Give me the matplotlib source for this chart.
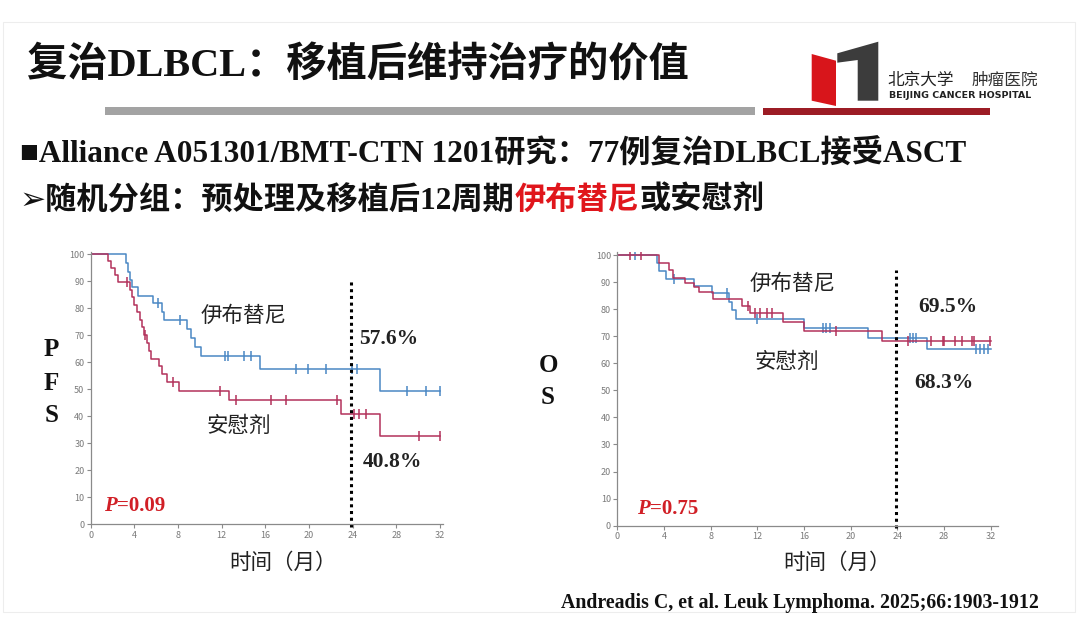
import matplotlib
matplotlib.use("Agg")
import matplotlib.pyplot as plt
from matplotlib.patches import Polygon, Rectangle
import numpy as np

plt.rcParams['font.family'] = ['Noto Sans CJK SC', 'DejaVu Sans']

W, H = 1080, 641
MIX = ['Liberation Serif', 'Noto Sans CJK SC', 'DejaVu Sans']
BLUE = '#4a87c4'
RED = '#b3315b'
PRED = '#d11f26'

# ---- data (months, survival %) ----
pfs_ibr_t = [0, 3.2, 3.4, 3.6, 3.8, 4.3, 5.7, 6.5, 6.7, 8.8, 9.2, 9.6, 10.1, 15.5, 26.5]
pfs_ibr_s = [100, 96.8, 93.6, 90.4, 87.8, 84.7, 81.8, 78.7, 75.5, 72.3, 69.0, 65.7, 62.3, 57.6, 49.4]
pfs_ibr_cens = [6.2, 8.2, 12.3, 12.6, 14.0, 14.7, 18.8, 19.9, 21.6, 23.9, 24.4, 29.0, 30.7, 32.0]

pfs_pbo_t = [0, 1.6, 1.9, 2.2, 2.5, 3.6, 3.8, 4.0, 4.2, 4.5, 4.7, 4.9, 5.2, 5.3, 5.5,
             6.3, 6.5, 7.0, 8.1, 12.7, 22.9, 26.5]
pfs_pbo_s = [100, 97.4, 94.8, 92.2, 89.6, 86.9, 84.1, 81.3, 78.5, 75.7, 72.9, 70.1, 67.2, 64.3, 61.4,
             58.5, 55.6, 52.7, 49.2, 45.9, 40.8, 32.6]
pfs_pbo_cens = [3.3, 5.0, 7.5, 11.8, 13.3, 16.5, 17.9, 22.6, 24.1, 24.6, 25.2, 30.1, 32.0]

os_ibr_t = [0, 3.4, 3.6, 4.2, 6.6, 8.1, 9.6, 9.8, 10.2, 16.0, 21.5, 26.5]
os_ibr_s = [100, 97.2, 94.2, 91.2, 88.7, 85.8, 82.8, 79.7, 76.4, 72.9, 69.5, 65.3]
os_ibr_cens = [1.5, 4.9, 9.4, 12.0, 17.6, 17.9, 18.2, 25.1, 25.3, 25.6, 30.7, 31.1, 31.4, 31.8]

os_pbo_t = [0, 3.6, 4.4, 4.8, 5.8, 6.6, 7.0, 8.2, 10.7, 11.4, 14.2, 16.0, 22.7]
os_pbo_s = [100, 97.2, 94.4, 91.6, 89.5, 88.0, 86.4, 83.6, 81.2, 78.7, 75.4, 72.0, 68.3]
os_pbo_cens = [1.1, 2.0, 11.2, 11.8, 12.2, 12.8, 13.3, 18.7, 24.9, 26.9, 27.9, 28.0,
               28.9, 29.5, 30.4, 30.6, 31.9]

x_ticks = [0, 4, 8, 12, 16, 20, 24, 28, 32]
y_ticks = [0, 10, 20, 30, 40, 50, 60, 70, 80, 90, 100]


def px(x, y):
    return x / W, 1 - y / H


def step_at(t, s, c):
    idx = np.searchsorted(t, c, side='right') - 1
    return np.asarray(s)[idx]


def km(ax, t, s, cens, color, tmax=32.0):
    tt = list(t) + [tmax]
    ss = list(s) + [s[-1]]
    ax.step(tt, ss, where='post', color=color, lw=1.1)
    ax.plot(cens, step_at(t, s, cens), ls='none', marker='|', ms=7, mew=1.1, color=color)


def style(ax, xmax):
    ax.set_xlim(0, xmax)
    ax.set_ylim(0, 101)
    ax.set_xticks(x_ticks)
    ax.set_yticks(y_ticks)
    for sp in ['top', 'right']:
        ax.spines[sp].set_visible(False)
    for sp in ['left', 'bottom']:
        ax.spines[sp].set_color('#8a8a8a')
        ax.spines[sp].set_linewidth(0.9)
    ax.tick_params(length=3, width=0.8, color='#8a8a8a', labelsize=6.5,
                   labelcolor='#7a7a7a', pad=1.5)


fig = plt.figure(figsize=(W / 100, H / 100), dpi=100)
fig.patch.set_facecolor('white')
renderer = fig.canvas.get_renderer()


def seq_text(x, y, parts, **kw):
    # parts: (text, colour, extra kwargs) placed one after another, in pixels
    for s, color, extra in parts:
        t = fig.text(*px(x, y), s, color=color, va='center', ha='left', **kw, **extra)
        x += t.get_window_extent(renderer).width


# faint slide frame
fig.patches.append(Rectangle(px(3, 612), 1072 / W, 590 / H, transform=fig.transFigure,
                             fill=False, ec='#ededed', lw=0.8))

# header
fig.text(*px(27, 66), '复治DLBCL：移植后维持治疗的价值', family=MIX, weight='bold',
         fontsize=29, va='center', ha='left', color='#111111')
fig.patches.append(Rectangle(px(105, 115), 650 / W, 8 / H, transform=fig.transFigure,
                             color='#a3a3a3', lw=0))
fig.patches.append(Rectangle(px(763, 115), 227 / W, 7 / H, transform=fig.transFigure,
                             color='#9c1c25', lw=0))

# logo
red_shape = [(811.7, 54), (836, 60.7), (836, 106), (811.7, 100.7)]
gray_shape = [(837.3, 53.3), (878.3, 41.7), (878.3, 100.7), (857.7, 100.7), (857.7, 60), (837.3, 62.7)]
fig.patches.append(Polygon([px(*p) for p in red_shape], closed=True, transform=fig.transFigure,
                           color='#d8151b', lw=0))
fig.patches.append(Polygon([px(*p) for p in gray_shape], closed=True, transform=fig.transFigure,
                           color='#3c3c3c', lw=0))
fig.text(*px(887, 80), '北京大学', fontsize=12, va='center', ha='left', color='#222222',
         family=['Noto Sans CJK SC'], weight='light')
fig.text(*px(972, 80), '肿瘤医院', fontsize=12, va='center', ha='left', color='#333333')
fig.text(*px(889, 95), 'BEIJING CANCER HOSPITAL', fontsize=6.8, weight='bold', va='center',
         ha='left', color='#222222', family=['DejaVu Sans'])

seq_text(20, 153, [('■Alliance A051301/BMT-CTN 1201研究：77例复治DLBCL接受ASCT', '#111111', {})],
         family=MIX, weight='bold', fontsize=22.5)
seq_text(20, 201, [('➢随机分组：预处理及移植后12周期', '#111111', {}), ('伊布替尼', '#e0161c', {}),
                   ('或安慰剂', '#111111', {})], family=MIX, weight='bold', fontsize=22.5)

# ---- PFS panel ----
ax1 = fig.add_axes([90.7 / W, 116.7 / H, 352.6 / W, 272.7 / H])
style(ax1, 32.3)
km(ax1, pfs_ibr_t, pfs_ibr_s, pfs_ibr_cens, BLUE)
km(ax1, pfs_pbo_t, pfs_pbo_s, pfs_pbo_cens, RED)
ax1.plot([23.8, 23.8], [-1, 90.7], ls=(0, (1, 1.2)), color='black', lw=2.2, clip_on=False)
ax1.text(14.0, 77.2, '伊布替尼', fontsize=15.5, ha='center', va='center', color='#222222')
ax1.text(13.6, 36.5, '安慰剂', fontsize=15.5, ha='center', va='center', color='#222222')
ax1.text(27.3, 68.5, '57.6%', fontsize=15.5, weight='bold', family=MIX, ha='center', va='center',
         color='#222222')
ax1.text(27.6, 23.2, '40.8%', fontsize=15.5, weight='bold', family=MIX, ha='center', va='center',
         color='#222222')
seq_text(104, 506, [('P', PRED, {'style': 'italic'}), ('=0.09', PRED, {})],
         family=MIX, weight='bold', fontsize=15)
for ch, yy in zip('PFS', [350, 383, 416]):
    fig.text(*px(51.7, yy), ch, fontsize=18, weight='bold', family=MIX, ha='center', va='center',
             color='#111111')
fig.text(*px(283, 563), '时间（月）', fontsize=15.5, ha='center', va='center', color='#222222')

# ---- OS panel ----
ax2 = fig.add_axes([617.3 / W, 115.3 / H, 380.4 / W, 273.4 / H])
style(ax2, 32.6)
km(ax2, os_ibr_t, os_ibr_s, os_ibr_cens, BLUE)
km(ax2, os_pbo_t, os_pbo_s, os_pbo_cens, RED)
ax2.plot([23.85, 23.85], [-1, 94.5], ls=(0, (1, 1.2)), color='black', lw=2.2, clip_on=False)
ax2.text(15.0, 89.2, '伊布替尼', fontsize=15.5, ha='center', va='center', color='#222222')
ax2.text(14.5, 60.6, '安慰剂', fontsize=15.5, ha='center', va='center', color='#222222')
ax2.text(28.3, 80.9, '69.5%', fontsize=15.5, weight='bold', family=MIX, ha='center', va='center',
         color='#222222')
ax2.text(28.0, 52.8, '68.3%', fontsize=15.5, weight='bold', family=MIX, ha='center', va='center',
         color='#222222')
seq_text(637, 509, [('P', PRED, {'style': 'italic'}), ('=0.75', PRED, {})],
         family=MIX, weight='bold', fontsize=15)
for ch, yy in zip('OS', [366, 398]):
    fig.text(*px(548, yy), ch, fontsize=18, weight='bold', family=MIX, ha='center', va='center',
             color='#111111')
fig.text(*px(837, 563), '时间（月）', fontsize=15.5, ha='center', va='center', color='#222222')

# citation
fig.text(*px(561, 603), 'Andreadis C, et al. Leuk Lymphoma. 2025;66:1903-1912', fontsize=14.3,
         weight='bold', family=MIX, ha='left', va='center', color='#111111')

fig.savefig('out.png', dpi=100)
